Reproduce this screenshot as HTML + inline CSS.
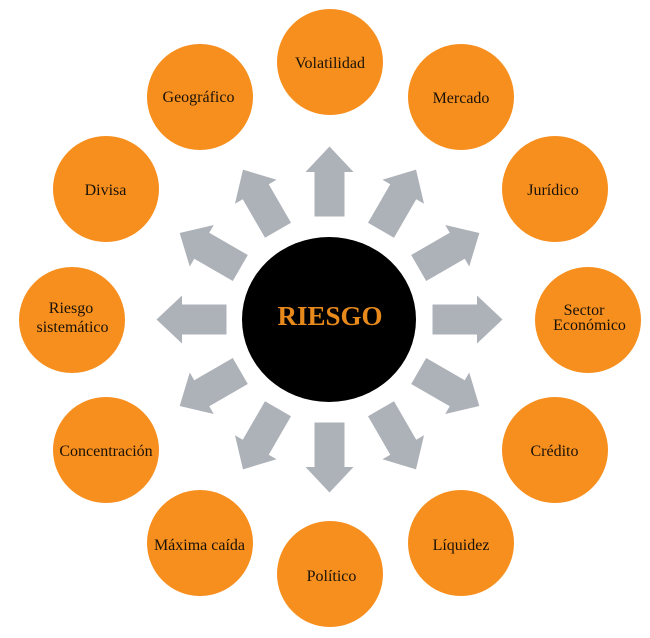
<!DOCTYPE html>
<html>
<head>
<meta charset="utf-8">
<style>
html,body{margin:0;padding:0;background:#fff;}
svg{display:block;}
svg text{font-family:"Liberation Serif","DejaVu Serif",serif;}
svg text.l{font-family:"Liberation Serif","DejaVu Serif",serif;font-size:16px;fill:#1a1208;text-anchor:middle;}
</style>
</head>
<body>
<svg width="650" height="638" viewBox="0 0 650 638" xmlns="http://www.w3.org/2000/svg">
<rect width="650" height="638" fill="#fff"/>
<defs>
<polygon id="ar" points="-15,-103 -15,-147.5 -24,-147.5 0,-173 24,-147.5 15,-147.5 15,-103" fill="#adb1b8"/>
</defs>
<g transform="translate(329.5,319.5)">
<use href="#ar" transform="rotate(0)"/>
<use href="#ar" transform="rotate(30)"/>
<use href="#ar" transform="rotate(60)"/>
<use href="#ar" transform="rotate(90)"/>
<use href="#ar" transform="rotate(120)"/>
<use href="#ar" transform="rotate(150)"/>
<use href="#ar" transform="rotate(180)"/>
<use href="#ar" transform="rotate(210)"/>
<use href="#ar" transform="rotate(240)"/>
<use href="#ar" transform="rotate(270)"/>
<use href="#ar" transform="rotate(300)"/>
<use href="#ar" transform="rotate(330)"/>
</g>
<ellipse cx="329" cy="319.5" rx="87" ry="82.5" fill="#000"/>
<text x="330" y="325" font-family="Liberation Serif, serif" font-size="27" font-weight="bold" fill="#e8891c" text-anchor="middle">RIESGO</text>

<g fill="#f78f1e">
<circle cx="330" cy="62" r="53"/>
<circle cx="461" cy="97" r="53"/>
<circle cx="555" cy="189" r="53"/>
<circle cx="588" cy="320" r="53"/>
<circle cx="555" cy="450" r="53"/>
<circle cx="461" cy="543" r="53"/>
<circle cx="330" cy="574" r="53"/>
<circle cx="200" cy="543" r="53"/>
<circle cx="106" cy="450" r="53"/>
<circle cx="72" cy="320" r="53"/>
<circle cx="106" cy="189" r="53"/>
<circle cx="200" cy="97" r="53"/>
</g>

<g font-family="Liberation Serif, serif" font-size="16" fill="#1a1208" text-anchor="middle">
<text class="l" x="330" y="68">Volatilidad</text>
<text class="l" x="461" y="103">Mercado</text>
<text class="l" x="553" y="195">Jurídico</text>
<text class="l" x="584" y="315">Sector</text>
<text class="l" x="589.5" y="330">Económico</text>
<text class="l" x="554.5" y="456">Crédito</text>
<text class="l" x="461" y="550">Líquidez</text>
<text class="l" x="331.5" y="581">Político</text>
<text class="l" x="199.5" y="550">Máxima caída</text>
<text class="l" x="106" y="456">Concentración</text>
<text class="l" x="71" y="313">Riesgo</text>
<text class="l" x="72.5" y="332">sistemático</text>
<text class="l" x="105.5" y="195">Divisa</text>
<text class="l" x="198.5" y="102">Geográfico</text>
</g>
</svg>
</body>
</html>
